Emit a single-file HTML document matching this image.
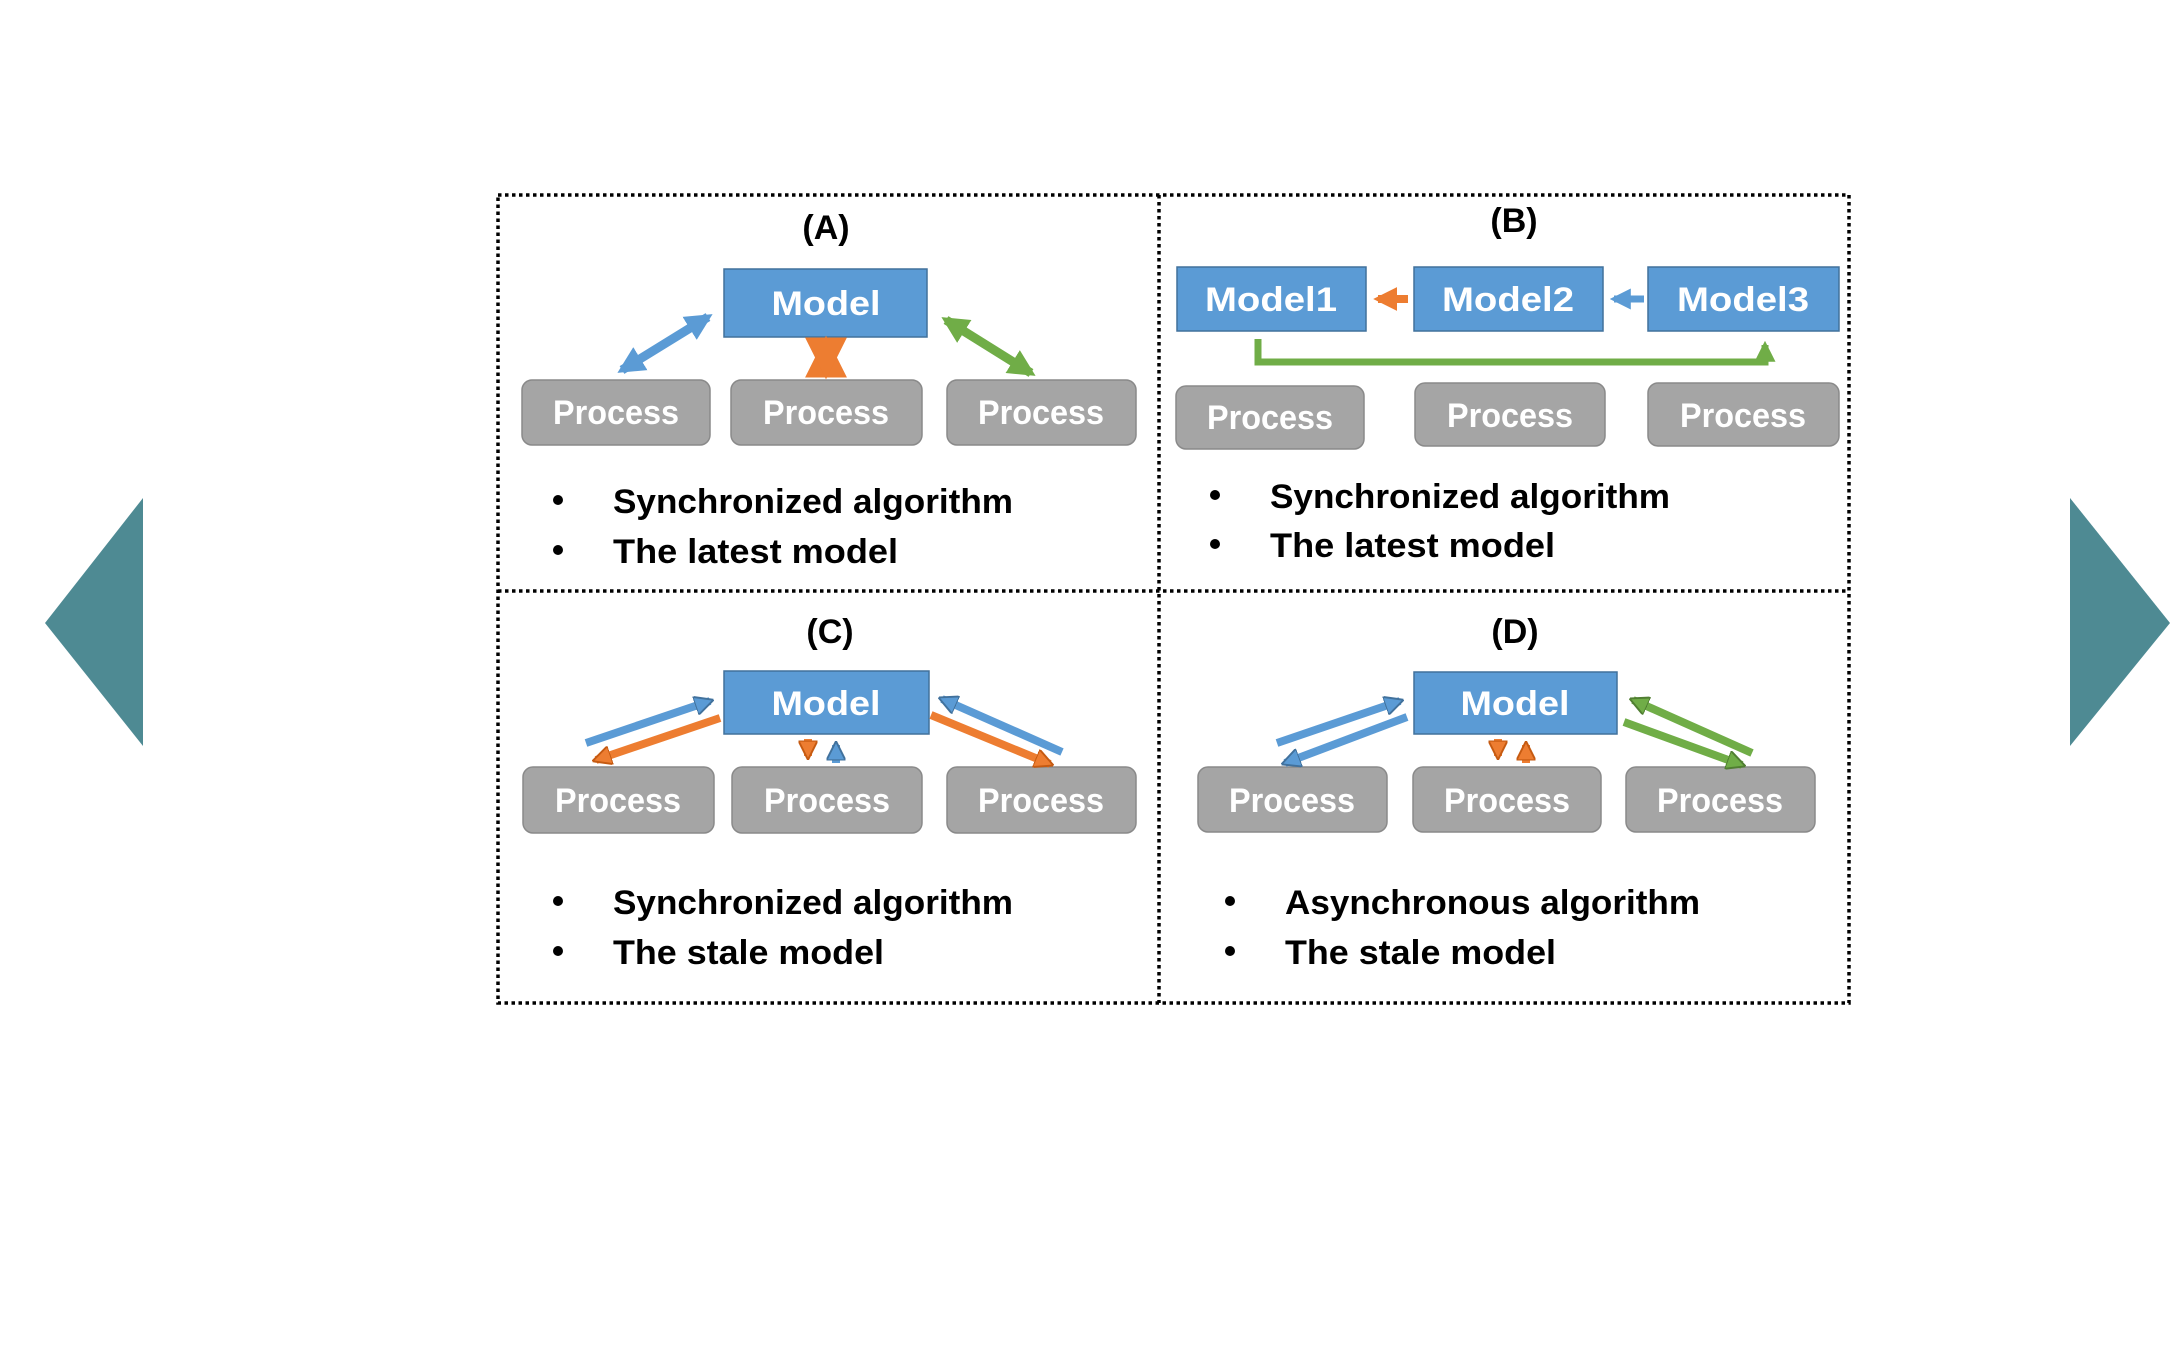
<!DOCTYPE html>
<html><head><meta charset="utf-8"><style>
html,body{margin:0;padding:0;background:#fff;}
svg{display:block;}
text{font-family:"Liberation Sans",sans-serif;font-weight:bold;}
</style></head><body>
<svg width="2177" height="1350" viewBox="0 0 2177 1350" xmlns="http://www.w3.org/2000/svg">
<defs>
<marker id="hb" viewBox="0 0 10 10" refX="8" refY="5" markerWidth="3" markerHeight="3" orient="auto-start-reverse" markerUnits="strokeWidth"><path d="M0,0 L10,5 L0,10 z" fill="#5b9bd5"/></marker>
<marker id="ho" viewBox="0 0 10 10" refX="8" refY="5" markerWidth="3" markerHeight="3" orient="auto-start-reverse" markerUnits="strokeWidth"><path d="M0,0 L10,5 L0,10 z" fill="#ed7d31"/></marker>
<marker id="hg" viewBox="0 0 10 10" refX="8" refY="5" markerWidth="3" markerHeight="3" orient="auto-start-reverse" markerUnits="strokeWidth"><path d="M0,0 L10,5 L0,10 z" fill="#70ad47"/></marker>
<marker id="sb" viewBox="0 0 10 10" refX="8" refY="5" markerWidth="2.4" markerHeight="2.4" orient="auto-start-reverse" markerUnits="strokeWidth"><path d="M0,0 L10,5 L0,10 z" fill="#5b9bd5" stroke="#41719c" stroke-width="1"/></marker>
<marker id="so" viewBox="0 0 10 10" refX="8" refY="5" markerWidth="2.4" markerHeight="2.4" orient="auto-start-reverse" markerUnits="strokeWidth"><path d="M0,0 L10,5 L0,10 z" fill="#ed7d31" stroke="#c55a11" stroke-width="1"/></marker>
<marker id="sg" viewBox="0 0 10 10" refX="8" refY="5" markerWidth="2.4" markerHeight="2.4" orient="auto-start-reverse" markerUnits="strokeWidth"><path d="M0,0 L10,5 L0,10 z" fill="#70ad47" stroke="#507e32" stroke-width="1"/></marker>
</defs>

<!-- side triangles -->
<polygon points="45,623 143,498 143,746" fill="#4e8a93"/>
<polygon points="2070,498 2170,623 2070,746" fill="#4e8a93"/>

<!-- dotted grid -->
<g fill="none" stroke="#000" stroke-width="3.5" stroke-dasharray="3.5 3.5">
<rect x="498" y="195" width="1351" height="808"/>
<line x1="498" y1="591" x2="1849" y2="591"/>
<line x1="1159" y1="195" x2="1159" y2="1003"/>
</g>

<!-- titles -->
<g font-size="34" fill="#000" text-anchor="middle">
<text x="826" y="239">(A)</text>
<text x="1514" y="232">(B)</text>
<text x="830" y="643">(C)</text>
<text x="1515" y="643">(D)</text>
</g>

<!-- blue model boxes -->
<g fill="#5b9bd5" stroke="#41719c" stroke-width="1.5">
<rect x="724" y="269" width="203" height="68"/>
<rect x="1177" y="267" width="189" height="64"/>
<rect x="1414" y="267" width="189" height="64"/>
<rect x="1648" y="267" width="191" height="64"/>
<rect x="724" y="671" width="205" height="63"/>
<rect x="1414" y="672" width="203" height="62"/>
</g>
<g font-size="34" fill="#fff" text-anchor="middle">
<text x="826" y="315" textLength="109" lengthAdjust="spacingAndGlyphs">Model</text>
<text x="1271" y="311" textLength="132" lengthAdjust="spacingAndGlyphs">Model1</text>
<text x="1508" y="311" textLength="132" lengthAdjust="spacingAndGlyphs">Model2</text>
<text x="1743" y="311" textLength="132" lengthAdjust="spacingAndGlyphs">Model3</text>
<text x="826" y="715" textLength="109" lengthAdjust="spacingAndGlyphs">Model</text>
<text x="1515" y="715" textLength="109" lengthAdjust="spacingAndGlyphs">Model</text>
</g>

<!-- process boxes -->
<g fill="#a5a5a5" stroke="#8a8a8a" stroke-width="1.5">
<rect x="522" y="380" width="188" height="65" rx="10"/>
<rect x="731" y="380" width="191" height="65" rx="10"/>
<rect x="947" y="380" width="189" height="65" rx="10"/>
<rect x="1176" y="386" width="188" height="63" rx="10"/>
<rect x="1415" y="383" width="190" height="63" rx="10"/>
<rect x="1648" y="383" width="191" height="63" rx="10"/>
<rect x="523" y="767" width="191" height="66" rx="10"/>
<rect x="732" y="767" width="190" height="66" rx="10"/>
<rect x="947" y="767" width="189" height="66" rx="10"/>
<rect x="1198" y="767" width="189" height="65" rx="10"/>
<rect x="1413" y="767" width="188" height="65" rx="10"/>
<rect x="1626" y="767" width="189" height="65" rx="10"/>
</g>
<g font-size="34" fill="#fff" text-anchor="middle">
<text x="616" y="424" textLength="126" lengthAdjust="spacingAndGlyphs">Process</text>
<text x="826" y="424" textLength="126" lengthAdjust="spacingAndGlyphs">Process</text>
<text x="1041" y="424" textLength="126" lengthAdjust="spacingAndGlyphs">Process</text>
<text x="1270" y="429" textLength="126" lengthAdjust="spacingAndGlyphs">Process</text>
<text x="1510" y="427" textLength="126" lengthAdjust="spacingAndGlyphs">Process</text>
<text x="1743" y="427" textLength="126" lengthAdjust="spacingAndGlyphs">Process</text>
<text x="618" y="812" textLength="126" lengthAdjust="spacingAndGlyphs">Process</text>
<text x="827" y="812" textLength="126" lengthAdjust="spacingAndGlyphs">Process</text>
<text x="1041" y="812" textLength="126" lengthAdjust="spacingAndGlyphs">Process</text>
<text x="1292" y="812" textLength="126" lengthAdjust="spacingAndGlyphs">Process</text>
<text x="1507" y="812" textLength="126" lengthAdjust="spacingAndGlyphs">Process</text>
<text x="1720" y="812" textLength="126" lengthAdjust="spacingAndGlyphs">Process</text>
</g>

<!-- Panel A arrows -->
<line x1="622" y1="370" x2="708" y2="317" stroke="#5b9bd5" stroke-width="9" marker-start="url(#hb)" marker-end="url(#hb)"/>
<line x1="826" y1="344" x2="826" y2="371" stroke="#ed7d31" stroke-width="14" marker-start="url(#ho)" marker-end="url(#ho)"/>
<line x1="946" y1="320" x2="1031" y2="373" stroke="#70ad47" stroke-width="9" marker-start="url(#hg)" marker-end="url(#hg)"/>

<!-- Panel B arrows -->
<line x1="1408" y1="299" x2="1378" y2="299" stroke="#ed7d31" stroke-width="8" marker-end="url(#ho)"/>
<line x1="1644" y1="299" x2="1614" y2="299" stroke="#5b9bd5" stroke-width="7" marker-end="url(#hb)"/>
<polyline points="1258,339 1258,362 1765,362 1765,345" fill="none" stroke="#70ad47" stroke-width="7" marker-end="url(#hg)"/>

<!-- Panel C arrows -->
<line x1="586" y1="743" x2="710" y2="701" stroke="#5b9bd5" stroke-width="8" marker-end="url(#sb)"/>
<line x1="720" y1="718" x2="596" y2="760" stroke="#ed7d31" stroke-width="8" marker-end="url(#so)"/>
<line x1="1062" y1="752" x2="942" y2="699" stroke="#5b9bd5" stroke-width="8" marker-end="url(#sb)"/>
<line x1="931" y1="715" x2="1050" y2="764" stroke="#ed7d31" stroke-width="8" marker-end="url(#so)"/>
<line x1="808" y1="739" x2="808" y2="756" stroke="#ed7d31" stroke-width="8" marker-end="url(#so)"/>
<line x1="836" y1="763" x2="836" y2="745" stroke="#5b9bd5" stroke-width="8" marker-end="url(#sb)"/>

<!-- Panel D arrows -->
<line x1="1277" y1="743" x2="1400" y2="701" stroke="#5b9bd5" stroke-width="8" marker-end="url(#sb)"/>
<line x1="1407" y1="717" x2="1285" y2="763" stroke="#5b9bd5" stroke-width="8" marker-end="url(#sb)"/>
<line x1="1752" y1="753" x2="1633" y2="700" stroke="#70ad47" stroke-width="8" marker-end="url(#sg)"/>
<line x1="1624" y1="722" x2="1742" y2="765" stroke="#70ad47" stroke-width="8" marker-end="url(#sg)"/>
<line x1="1498" y1="739" x2="1498" y2="756" stroke="#ed7d31" stroke-width="8" marker-end="url(#so)"/>
<line x1="1526" y1="763" x2="1526" y2="745" stroke="#ed7d31" stroke-width="8" marker-end="url(#so)"/>

<!-- bullets -->
<g fill="#000">
<circle cx="558" cy="500" r="5"/><circle cx="558" cy="550" r="5"/>
<circle cx="1215" cy="495" r="5"/><circle cx="1215" cy="544" r="5"/>
<circle cx="558" cy="901" r="5"/><circle cx="558" cy="951" r="5"/>
<circle cx="1230" cy="901" r="5"/><circle cx="1230" cy="951" r="5"/>
</g>
<g font-size="34" fill="#000">
<text x="613" y="513" textLength="400" lengthAdjust="spacingAndGlyphs">Synchronized algorithm</text>
<text x="613" y="563" textLength="285" lengthAdjust="spacingAndGlyphs">The latest model</text>
<text x="1270" y="508" textLength="400" lengthAdjust="spacingAndGlyphs">Synchronized algorithm</text>
<text x="1270" y="557" textLength="285" lengthAdjust="spacingAndGlyphs">The latest model</text>
<text x="613" y="914" textLength="400" lengthAdjust="spacingAndGlyphs">Synchronized algorithm</text>
<text x="613" y="964" textLength="271" lengthAdjust="spacingAndGlyphs">The stale model</text>
<text x="1285" y="914" textLength="415" lengthAdjust="spacingAndGlyphs">Asynchronous algorithm</text>
<text x="1285" y="964" textLength="271" lengthAdjust="spacingAndGlyphs">The stale model</text>
</g>
</svg>
</body></html>
